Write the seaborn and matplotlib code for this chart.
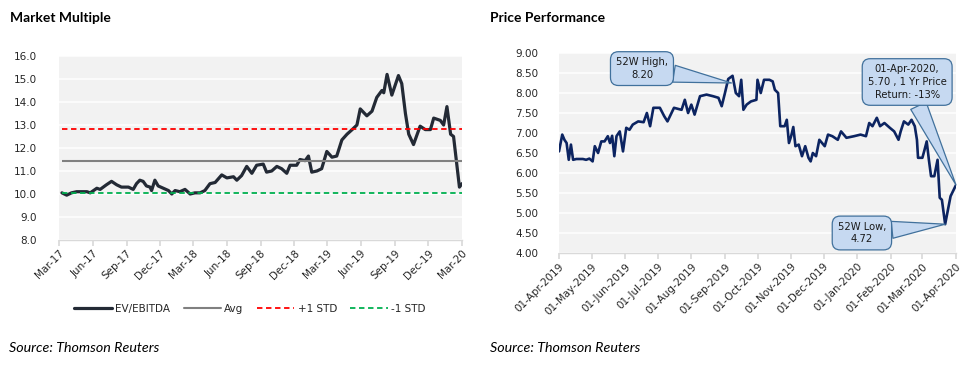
import matplotlib
matplotlib.use("Agg")
import matplotlib.pyplot as plt
import matplotlib.dates as mdates
from matplotlib.lines import Line2D
import seaborn as sns
import pandas as pd

# EV/EBITDA multiple
ev_dates = ["2017-03-09", "2017-03-22", "2017-04-04", "2017-04-18", "2017-05-16", "2017-05-25",
            "2017-06-12", "2017-06-21", "2017-07-08", "2017-07-22", "2017-08-05", "2017-08-18",
            "2017-09-06", "2017-09-19", "2017-09-28", "2017-10-07", "2017-10-16", "2017-10-25",
            "2017-11-04", "2017-11-08", "2017-11-17", "2017-11-26", "2017-12-10", "2017-12-24",
            "2018-01-02", "2018-01-11", "2018-01-24", "2018-02-07", "2018-02-21", "2018-03-06",
            "2018-03-20", "2018-04-02", "2018-04-16", "2018-04-30", "2018-05-18", "2018-06-01",
            "2018-06-19", "2018-06-28", "2018-07-11", "2018-07-25", "2018-08-08", "2018-08-21",
            "2018-09-08", "2018-09-17", "2018-10-01", "2018-10-15", "2018-10-28", "2018-11-11",
            "2018-11-20", "2018-12-08", "2018-12-17", "2018-12-31", "2019-01-09", "2019-01-18",
            "2019-02-01", "2019-02-14", "2019-02-28", "2019-03-14", "2019-03-27", "2019-04-10",
            "2019-04-24", "2019-05-08", "2019-05-21", "2019-05-30", "2019-06-17", "2019-07-01",
            "2019-07-14", "2019-07-28", "2019-08-02", "2019-08-11", "2019-08-24", "2019-09-11",
            "2019-09-20", "2019-09-30", "2019-10-09", "2019-10-22", "2019-11-09", "2019-11-23",
            "2019-12-07", "2019-12-16", "2020-01-03", "2020-01-12", "2020-01-21", "2020-01-31",
            "2020-02-08", "2020-02-24", "2020-03-02"]
ev_values = [10.05, 9.95, 10.05, 10.1, 10.1, 10.05, 10.25, 10.2, 10.4, 10.55, 10.4, 10.3,
             10.3, 10.2, 10.45, 10.6, 10.55, 10.35, 10.3, 10.15, 10.6, 10.35, 10.25, 10.15,
             10.0, 10.15, 10.1, 10.2, 10.0, 10.05, 10.05, 10.15, 10.45, 10.5, 10.83, 10.7,
             10.75, 10.6, 10.8, 11.2, 10.9, 11.25, 11.3, 10.95, 11.0, 11.2, 11.1, 10.9,
             11.25, 11.25, 11.5, 11.45, 11.65, 10.95, 11.0, 11.1, 11.85, 11.6, 11.65, 12.35,
             12.6, 12.8, 13.0, 13.7, 13.4, 13.6, 14.2, 14.5, 14.4, 15.2, 14.3, 15.15,
             14.8, 13.5, 12.6, 12.15, 12.95, 12.8, 12.8, 13.3, 13.2, 13.0, 13.8, 12.6,
             12.5, 10.3, 10.45]
ev_avg = 11.43
ev_plus_std = 12.82
ev_minus_std = 10.05
ev_labels = ["EV/EBITDA", "Avg", "+1 STD", "-1 STD"]

# share price, last 12 months
price_dates = ["2019-04-01", "2019-04-04", "2019-04-06", "2019-04-08", "2019-04-10", "2019-04-12",
               "2019-04-14", "2019-04-17", "2019-04-23", "2019-04-26", "2019-04-29", "2019-05-02",
               "2019-05-04", "2019-05-07", "2019-05-10", "2019-05-13", "2019-05-16", "2019-05-18",
               "2019-05-20", "2019-05-22", "2019-05-24", "2019-05-27", "2019-05-30", "2019-06-02",
               "2019-06-05", "2019-06-08", "2019-06-13", "2019-06-18", "2019-06-21", "2019-06-24",
               "2019-06-27", "2019-07-03", "2019-07-07", "2019-07-10", "2019-07-13", "2019-07-16",
               "2019-07-23", "2019-07-26", "2019-07-29", "2019-08-01", "2019-08-04", "2019-08-09",
               "2019-08-15", "2019-08-21", "2019-08-26", "2019-08-29", "2019-09-01", "2019-09-04",
               "2019-09-08", "2019-09-11", "2019-09-14", "2019-09-16", "2019-09-18", "2019-09-21",
               "2019-09-25", "2019-09-30", "2019-10-01", "2019-10-04", "2019-10-07", "2019-10-12",
               "2019-10-15", "2019-10-17", "2019-10-20", "2019-10-22", "2019-10-26", "2019-10-28",
               "2019-10-30", "2019-11-01", "2019-11-03", "2019-11-05", "2019-11-08", "2019-11-11",
               "2019-11-14", "2019-11-17", "2019-11-19", "2019-11-21", "2019-11-24", "2019-11-27",
               "2019-12-02", "2019-12-05", "2019-12-09", "2019-12-14", "2019-12-17", "2019-12-22",
               "2019-12-29", "2020-01-04", "2020-01-09", "2020-01-12", "2020-01-15", "2020-01-19",
               "2020-01-22", "2020-01-26", "2020-01-31", "2020-02-04", "2020-02-08", "2020-02-10",
               "2020-02-13", "2020-02-17", "2020-02-20", "2020-02-23", "2020-02-25", "2020-02-26",
               "2020-03-01", "2020-03-03", "2020-03-05", "2020-03-07", "2020-03-09", "2020-03-12",
               "2020-03-15", "2020-03-17", "2020-03-19", "2020-03-22", "2020-03-24", "2020-03-27",
               "2020-04-01"]
price_values = [6.54, 6.96, 6.83, 6.75, 6.33, 6.71, 6.33, 6.35, 6.35, 6.33, 6.36, 6.29,
                6.67, 6.5, 6.79, 6.79, 6.92, 6.75, 6.93, 6.42, 6.92, 7.04, 6.54, 7.13,
                7.08, 7.21, 7.29, 7.27, 7.5, 7.17, 7.63, 7.63, 7.42, 7.29, 7.46, 7.63,
                7.58, 7.83, 7.5, 7.71, 7.46, 7.92, 7.96, 7.92, 7.88, 7.67, 8.0, 8.35,
                8.43, 8.0, 7.92, 8.33, 7.58, 7.71, 7.79, 7.83, 8.33, 8.0, 8.33, 8.33,
                8.29, 8.08, 8.0, 7.17, 7.17, 7.33, 6.75, 6.92, 7.15, 6.67, 6.71, 6.42,
                6.67, 6.38, 6.29, 6.5, 6.42, 6.83, 6.67, 6.96, 6.92, 6.83, 7.04, 6.88,
                6.92, 6.96, 6.92, 7.25, 7.17, 7.38, 7.17, 7.25, 7.13, 7.04, 6.83, 7.04,
                7.29, 7.21, 7.33, 7.17, 6.83, 6.38, 6.38, 6.58, 6.79, 6.33, 5.92, 5.92,
                6.33, 5.38, 5.33, 4.72, 5.0, 5.42, 5.70]

callout_texts = ["52W High,\n8.20", "01-Apr-2020,\n5.70 , 1 Yr Price\nReturn: -13%", "52W Low,\n4.72"]
callout_points = [("2019-09-07", 8.25), ("2020-04-01", 5.70), ("2020-03-22", 4.72)]

ev = pd.DataFrame({"date": pd.to_datetime(ev_dates), "value": ev_values})
price = pd.DataFrame({"date": pd.to_datetime(price_dates), "value": price_values})

sns.set_theme(style="white")
plt.rcParams["font.family"] = ["DejaVu Sans"]

fig = plt.figure(figsize=(9.74, 3.73), dpi=100)
ax1 = fig.add_axes([59 / 974, 1 - 240 / 373, 403 / 974, 184 / 373])
ax2 = fig.add_axes([559 / 974, 1 - 253 / 373, 397 / 974, 200 / 373])

tick_color = "#262626"
for ax, ypad in ((ax1, 10), (ax2, 9)):
    ax.set_facecolor("#f2f2f2")
    ax.grid(axis="y", color="white", linewidth=1.1)
    ax.grid(axis="x", visible=False)
    ax.set_axisbelow(True)
    for s in ("top", "right", "left"):
        ax.spines[s].set_visible(False)
    ax.spines["bottom"].set_color("#d9d9d9")
    ax.spines["bottom"].set_linewidth(1.0)
    ax.tick_params(axis="x", bottom=True, length=4, color="#d9d9d9", pad=2,
                   labelsize=7.5, labelcolor=tick_color)
    ax.tick_params(axis="y", left=False, labelsize=7.5, labelcolor=tick_color, pad=ypad)

# ---- Market Multiple ----
sns.lineplot(data=ev, x="date", y="value", ax=ax1, color="#232a35", linewidth=2.3)
x0, x1 = ev["date"].iloc[0], ev["date"].iloc[-1]
ax1.hlines(ev_avg, x0, x1, color="#808080", linewidth=1.5)
ax1.hlines(ev_plus_std, x0, x1, color="#ff0000", linewidth=1.3, linestyles=(0, (3, 2)))
ax1.hlines(ev_minus_std, x0, x1, color="#00b050", linewidth=1.3, linestyles=(0, (3, 2)))
ax1.set_ylim(8, 16)
ax1.set_yticks(range(8, 17))
ax1.yaxis.set_major_formatter(matplotlib.ticker.FormatStrFormatter("%.1f"))
ax1.set_xlim(pd.Timestamp("2017-03-01"), pd.Timestamp("2020-03-02"))
ax1.xaxis.set_major_locator(mdates.MonthLocator(bymonth=[3, 6, 9, 12]))
ax1.xaxis.set_major_formatter(mdates.DateFormatter("%b-%y"))
ax1.set_xlabel("")
ax1.set_ylabel("")

handles = [Line2D([], [], color="#232a35", linewidth=2.3),
           Line2D([], [], color="#808080", linewidth=1.5),
           Line2D([], [], color="#ff0000", linewidth=1.3, linestyle=(0, (3, 2))),
           Line2D([], [], color="#00b050", linewidth=1.3, linestyle=(0, (3, 2)))]
fig.legend(handles, ev_labels, loc="center", bbox_to_anchor=(250 / 974, 1 - 309 / 373),
           ncol=4, frameon=False, fontsize=7.5, handlelength=3.6, columnspacing=1.3,
           handletextpad=0.3, labelcolor=tick_color)

# ---- Price Performance ----
sns.lineplot(data=price, x="date", y="value", ax=ax2, color="#0c2461", linewidth=1.9)
ax2.set_ylim(4, 9)
ax2.set_yticks([4 + 0.5 * i for i in range(11)])
ax2.yaxis.set_major_formatter(matplotlib.ticker.FormatStrFormatter("%.2f"))
ax2.set_xlim(pd.Timestamp("2019-04-01"), pd.Timestamp("2020-04-01"))
ax2.xaxis.set_major_locator(mdates.MonthLocator())
ax2.xaxis.set_major_formatter(mdates.DateFormatter("%d-%b-%Y"))
ax2.set_xlabel("")
ax2.set_ylabel("")

for ax in (ax1, ax2):
    for lab in ax.get_xticklabels():
        lab.set_rotation(45)
        lab.set_ha("right")
        lab.set_va("top")
        lab.set_rotation_mode("anchor")

box_pos = [(0.209, 0.922), (0.877, 0.855), (0.763, 0.10)]
for txt, (d, v), pos in zip(callout_texts, callout_points, box_pos):
    ax2.annotate(txt, xy=(pd.Timestamp(d), v), xytext=pos, textcoords="axes fraction",
                 ha="center", va="center", fontsize=7.2, color="#1a1a1a", linespacing=1.35,
                 bbox=dict(boxstyle="round,pad=0.55,rounding_size=0.8", fc="#c6d9f1",
                           ec="#41719c", lw=0.9),
                 arrowprops=dict(arrowstyle="wedge,tail_width=1.7,shrink_factor=0.5",
                                 fc="#c6d9f1", ec="#41719c", lw=0.9, shrinkA=0, shrinkB=0))

title_font = ["Lato", "DejaVu Sans"]
fig.text(10 / 974, 1 - 18 / 373, "Market Multiple", fontsize=10, fontweight="bold",
         family=title_font, va="center", ha="left", color="black")
fig.text(490 / 974, 1 - 18 / 373, "Price Performance", fontsize=10, fontweight="bold",
         family=title_font, va="center", ha="left", color="black")
fig.text(9 / 974, 1 - 348 / 373, "Source: Thomson Reuters", fontsize=10.3, style="italic",
         family=title_font, va="center", ha="left", color="black")
fig.text(490 / 974, 1 - 348 / 373, "Source: Thomson Reuters", fontsize=10.3, style="italic",
         family=title_font, va="center", ha="left", color="black")

fig.savefig("out.png", dpi=100, facecolor="white")
